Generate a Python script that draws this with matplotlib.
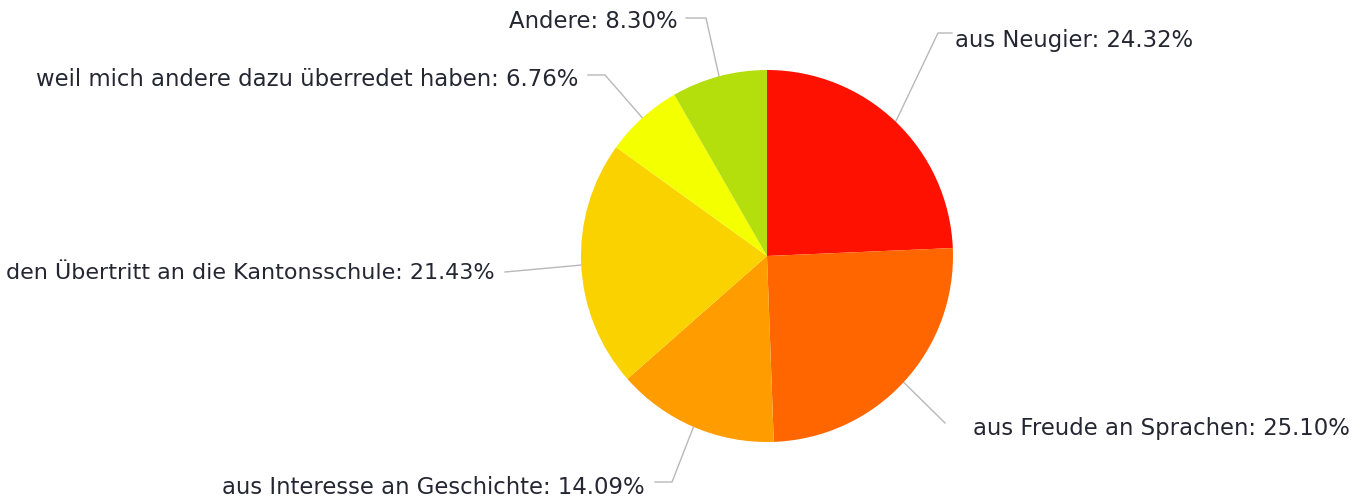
import numpy as np
import matplotlib
matplotlib.use("Agg")
import matplotlib.pyplot as plt

labels = ["aus Neugier", "aus Freude an Sprachen", "aus Interesse an Geschichte",
          "den Übertritt an die Kantonsschule", "weil mich andere dazu überredet haben", "Andere"]
values = [24.32, 25.10, 14.09, 21.43, 6.76, 8.30]
colors = ["#FF1100", "#FF6600", "#FF9C00", "#FAD200", "#F4FF00", "#B4DE0C"]

W, H = 1363, 497
fig = plt.figure(figsize=(W / 100, H / 100), dpi=100)
ax = fig.add_axes([0, 0, 1, 1])
ax.set_xlim(0, W)
ax.set_ylim(0, H)
ax.set_aspect("equal")
ax.axis("off")

cx, cy, r = 767, H - 256, 186
wedges, _ = ax.pie(values, colors=colors, startangle=90, counterclock=False,
                   center=(cx, cy), radius=r, frame=True,
                   wedgeprops=dict(linewidth=0))
ax.set_xlim(0, W)
ax.set_ylim(0, H)
ax.axis("off")

# label layout: (text x, text y, ha, fontsize, elbow points in pixel coords)
layout = [
    (955, 41, "left", 16.4, [(938, 33), (952, 33)]),
    (973, 429, "left", 16.4, [(945, 423)]),
    (645, 488, "right", 16.4, [(672, 482), (655, 482)]),
    (495, 273, "right", 16.0, [(505, 272)]),
    (578, 79, "right", 16.4, [(605, 75), (588, 75)]),
    (678, 21, "right", 16.4, [(706, 18), (686, 18)]),
]

for w, lab, val, (tx, ty, ha, fs, elbows) in zip(wedges, labels, values, layout):
    mid = np.deg2rad((w.theta1 + w.theta2) / 2)
    ex, ey = cx + r * np.cos(mid), cy + r * np.sin(mid)
    xs = [ex] + [e[0] for e in elbows]
    ys = [ey] + [H - e[1] for e in elbows]
    ax.plot(xs, ys, color="#b8b8b8", lw=1.0, zorder=0)
    ax.text(tx, H - ty, f"{lab}: {val:.2f}%", ha=ha, va="center",
            fontsize=fs, color="#262633", family="DejaVu Sans")

fig.savefig("out.png", dpi=100)
